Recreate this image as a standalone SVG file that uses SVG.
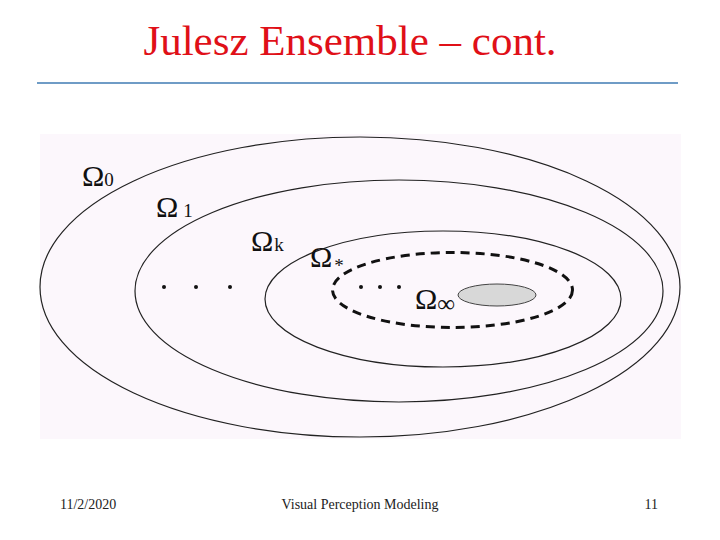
<svg xmlns="http://www.w3.org/2000/svg" width="720" height="540" viewBox="0 0 720 540">
<style>
.title{font-family:"Liberation Serif","Times New Roman",serif;font-size:43px;fill:#e01018}
.foot{font-family:"Liberation Serif","Times New Roman",serif;font-size:14px;fill:#222}
.set{fill:none;stroke:#222;stroke-width:1.2}
.om{font-family:"Liberation Serif","Times New Roman",serif;font-size:30px;fill:#111}
.sub{font-family:"Liberation Serif","Times New Roman",serif;font-size:19px;fill:#111}
.dot{fill:#111}
</style>
<rect width="720" height="540" fill="#ffffff"/>
<text class="title" x="350" y="55" text-anchor="middle">Julesz Ensemble – cont.</text>
<line x1="37" y1="83" x2="678" y2="83" stroke="#6f9cc6" stroke-width="2"/>
<rect x="40" y="134" width="641" height="305" fill="#fcf7fc"/>
<g id="omega0">
<ellipse class="set" cx="360" cy="287" rx="320" ry="150"/>
<text class="om" x="82" y="186">Ω<tspan class="sub" dx="0">0</tspan></text>
</g>
<g id="omega1">
<ellipse class="set" cx="399" cy="291" rx="264" ry="111"/>
<text class="om" x="156" y="217">Ω<tspan class="sub" dx="5">1</tspan></text>
</g>
<g id="omegak">
<ellipse class="set" cx="443" cy="299" rx="178" ry="68"/>
<text class="om" x="251" y="251">Ω<tspan class="sub" dx="1">k</tspan></text>
</g>
<g id="omegastar">
<ellipse cx="452.5" cy="290" rx="120" ry="37.5" fill="none" stroke="#111" stroke-width="3" stroke-dasharray="9 6"/>
<text class="om" x="310" y="267">Ω<tspan class="sub" dx="2" dy="5">*</tspan></text>
</g>
<g id="omegainf">
<ellipse cx="497" cy="295" rx="39" ry="11" fill="#d8d8d8" stroke="#444" stroke-width="1"/>
<text class="om" x="415" y="309">Ω<tspan class="sub" style="font-size:25px" dy="3">∞</tspan></text>
</g>
<g id="dots">
<circle class="dot" cx="164" cy="287" r="2"/>
<circle class="dot" cx="196" cy="287" r="2"/>
<circle class="dot" cx="230" cy="287" r="2"/>
<circle class="dot" cx="361" cy="287" r="2"/>
<circle class="dot" cx="380" cy="287" r="2"/>
<circle class="dot" cx="399" cy="287" r="2"/>
</g>
<text class="foot" x="60" y="509">11/2/2020</text>
<text class="foot" x="360" y="509" text-anchor="middle">Visual Perception Modeling</text>
<text class="foot" x="658" y="509" text-anchor="end">11</text>
</svg>
